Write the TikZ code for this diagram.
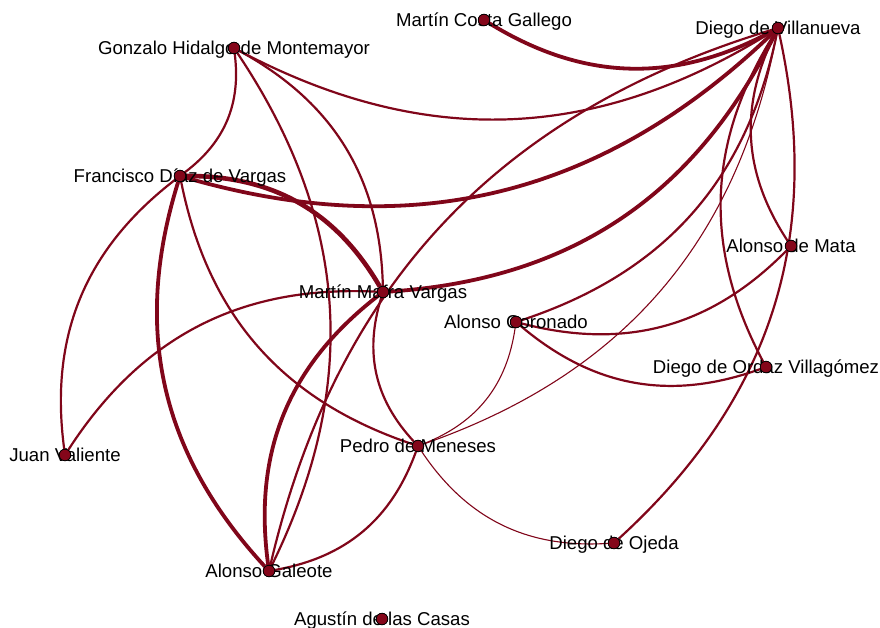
\documentclass[tikz,border=0pt]{standalone}
\usepackage{fontspec}
\setmainfont{Liberation Sans}
\usetikzlibrary{backgrounds}
\definecolor{edgered}{RGB}{128,6,26}
\definecolor{dotred}{RGB}{132,6,26}
\begin{document}
\begin{tikzpicture}[x=1pt,y=-1pt,
  link/.style={draw=edgered, line width=2.2pt, bend right=30},
  heavy/.style={line width=3.8pt},
  heavier/.style={line width=4.6pt},
  faint/.style={line width=1.1pt},
  dot/.style={circle, fill=dotred, draw=black, line width=0.7pt, inner sep=0pt, minimum size=11.5pt},
  lbl/.style={anchor=base, inner sep=0pt, font=\fontsize{18.6}{20}\selectfont}]
\useasboundingbox (0,0) rectangle (880,628);

% people
\node[dot] (MCG) at (484,20) {};
\node[dot] (DV)  at (778,28) {};
\node[dot] (GH)  at (234,48) {};
\node[dot] (FD)  at (180,176) {};
\node[dot] (AM)  at (791,246) {};
\node[dot] (MMV) at (383,292) {};
\node[dot] (AC)  at (516,322) {};
\node[dot] (DO)  at (766,367) {};
\node[dot] (JV)  at (65,455) {};
\node[dot] (PM)  at (418,446) {};
\node[dot] (DOj) at (614,543) {};
\node[dot] (AG)  at (269,571) {};
\node[dot] (AdC) at (382,619) {};

% names
\node[lbl] (lMCG) at ([yshift=-6.6pt]MCG.center) {Martín Costa Gallego};
\node[lbl] (lDV)  at ([yshift=-6.6pt]DV.center)  {Diego de Villanueva};
\node[lbl] (lGH)  at ([yshift=-6.6pt]GH.center)  {Gonzalo Hidalgo de Montemayor};
\node[lbl] (lFD)  at ([yshift=-6.6pt]FD.center)  {Francisco Díaz de Vargas};
\node[lbl] (lAM)  at ([yshift=-6.6pt]AM.center)  {Alonso de Mata};
\node[lbl] (lMMV) at ([yshift=-6.6pt]MMV.center) {Martín Mafra Vargas};
\node[lbl] (lAC)  at ([yshift=-6.6pt]AC.center)  {Alonso Coronado};
\node[lbl] (lDO)  at ([yshift=-6.6pt]DO.center)  {Diego de Ordaz Villagómez};
\node[lbl] (lJV)  at ([yshift=-6.6pt]JV.center)  {Juan Valiente};
\node[lbl] (lPM)  at ([yshift=-6.6pt]PM.center)  {Pedro de Meneses};
\node[lbl] (lDOj) at ([yshift=-6.6pt]DOj.center) {Diego de Ojeda};
\node[lbl] (lAG)  at ([yshift=-6.6pt]AG.center)  {Alonso Galeote};
\node[lbl] (lAdC) at ([yshift=-6.6pt]AdC.center) {Agustín de las Casas};

% dots over the names
\foreach \n in {MCG,DV,GH,FD,AM,MMV,AC,DO,JV,PM,DOj,AG,AdC}
  \node[dot] at (\n.center) {};

% ties
\begin{scope}[on background layer]
\draw[link,heavy]   (MCG) to (DV);
\draw[link]         (GH)  to (DV);
\draw[link,heavy]   (FD)  to (DV);
\draw[link,heavy]   (MMV) to (DV);
\draw[link]         (DV)  to (AG);
\draw[link]         (AC)  to (DV);
\draw[link,faint]   (PM)  to (DV);
\draw[link]         (DV)  to (DO);
\draw[link]         (DV)  to (AM);
\draw[link]         (DOj) to (DV);
\draw[link]         (FD)  to (GH);
\draw[link]         (AG)  to (GH);
\draw[link]         (MMV) to (GH);
\draw[link,heavier] (MMV) to (FD);
\draw[link]         (FD)  to (JV);
\draw[link,heavy]   (FD)  to (AG);
\draw[link]         (FD)  to (PM);
\draw[link]         (MMV) to (JV);
\draw[link,heavy]   (MMV) to (AG);
\draw[link]         (MMV) to (PM);
\draw[link]         (AC)  to (AM);
\draw[link]         (AC)  to (DO);
\draw[link,faint]   (PM)  to (AC);
\draw[link]         (AG)  to (PM);
\draw[link,faint]   (PM)  to (DOj);
\end{scope}
\end{tikzpicture}
\end{document}
